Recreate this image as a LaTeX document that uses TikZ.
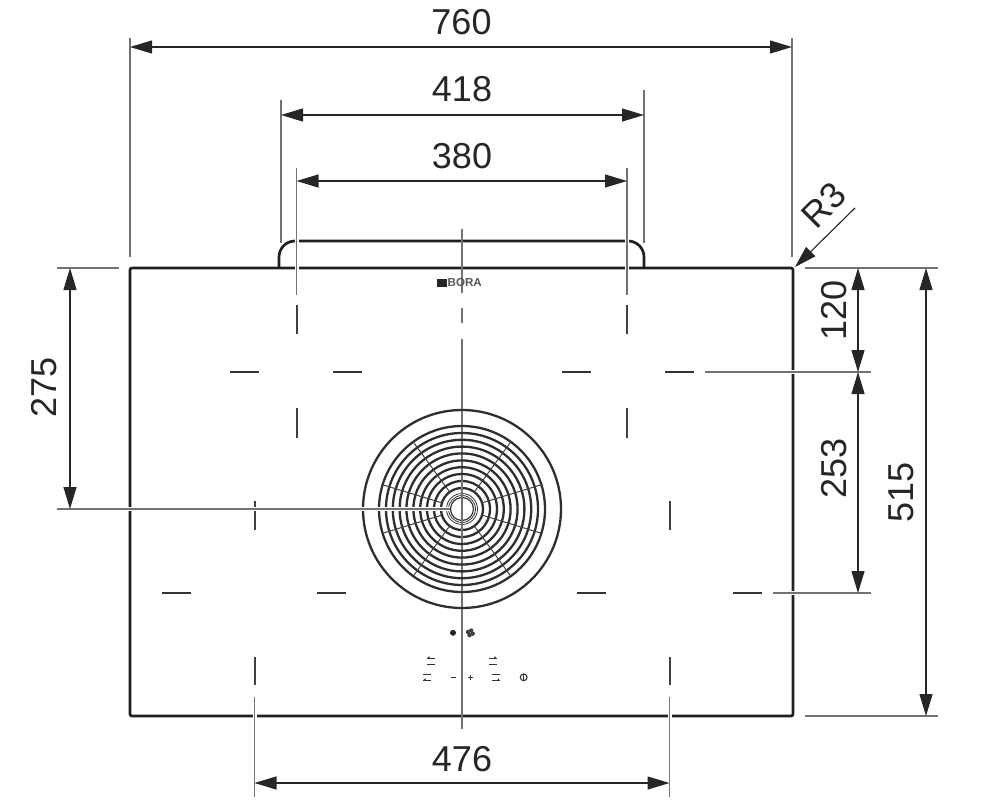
\documentclass[tikz,border=0pt]{standalone}
\usepackage{fontspec}
\setmainfont{Liberation Sans}
\usetikzlibrary{arrows.meta,calc}
\tikzset{
  outline/.style={line width=2.7pt,color=black!88},
  extline/.style={line width=1.2pt,color=black!55,preaction={draw=white,line width=4pt}},
  axisline/.style={line width=1.2pt,color=black!55},
  markline/.style={line width=1.7pt,color=black!80},
  vmarkline/.style={line width=2pt,color=black!75},
  dimline/.style={line width=1.1pt,color=black!85,{Triangle[length=22pt,width=13pt]}-{Triangle[length=22pt,width=13pt]}},
  dimtext/.style={inner sep=0pt,font=\fontsize{36}{36}\selectfont,color=black!85},
  ringline/.style={line width=2.3pt,color=black!82},
  iconline/.style={line width=1.1pt,color=black!80}
}
\begin{document}
\begin{tikzpicture}[x=1pt,y=-1pt,line cap=butt]
\useasboundingbox (0,0) rectangle (1000,808);
\coordinate (hub) at (462,509);
% hob outline
\draw[outline,rounded corners=2pt] (130,268) rectangle (793,716);
\draw[outline,rounded corners=16pt] (279,268) -- (279,241) -- (644,241) -- (644,268);
% centre line and cross marks
\draw[axisline] (462,229) -- (462,293);
\draw[axisline] (462,308) -- (462,323);
\draw[axisline] (462,339) -- (462,729);
\foreach \xa in {230,333,562,665}
  \draw[markline] (\xa,372) -- ++(29,0);
\foreach \xa in {162,317,577,733}
  \draw[markline] (\xa,593) -- ++(29,0);
\foreach \xa in {296.5,627}{
  \draw[vmarkline] (\xa,305) -- (\xa,334);
  \draw[vmarkline] (\xa,408) -- (\xa,438);
}
\foreach \xa in {254.5,669.5}{
  \draw[vmarkline] (\xa,501) -- (\xa,530);
  \draw[vmarkline] (\xa,657) -- (\xa,685);
}
% extraction grille
\draw[ringline] (hub) circle (99);
\foreach \rr in {83,76,69.2,62.4,55.6,48.6,41.8,35,28,21}
  \draw[ringline] (hub) circle (\rr);
\foreach \aa in {17,54,126,163,197,234,306,343}
  \draw[line width=1pt,color=black!75] ($(hub)+(\aa:21)$) -- ($(hub)+(\aa:83)$);
\draw[line width=0.8pt,color=black!80] (hub) circle (15.5);
\draw[line width=0.8pt,color=black!80] (hub) circle (13.5);
\draw[line width=1.2pt,color=black!80] (hub) circle (11.5);
\draw[axisline] (462,480) -- (462,538);
% extension lines
\draw[extline] (130,38) -- (130,257);
\draw[extline] (792,38) -- (792,257);
\draw[extline] (281,100) -- (281,243);
\draw[extline] (644,90) -- (644,243);
\draw[extline] (296.5,168) -- (296.5,295);
\draw[extline] (627,168) -- (627,295);
\draw[extline] (254.5,697) -- (254.5,797);
\draw[extline] (669.5,697) -- (669.5,797);
\draw[extline] (57,268) -- (119,268);
\draw[extline] (57,509) -- (450,509);
\draw[extline] (805,268) -- (938,268);
\draw[extline] (705,372) -- (871,372);
\draw[extline] (773,593) -- (871,593);
\draw[extline] (805,716) -- (938,716);
% dimensions
\draw[dimline] (130,47) -- (792,47);
\draw[dimline] (281,115) -- (644,115);
\draw[dimline] (296.5,181) -- (627,181);
\draw[dimline] (254.5,783) -- (669.5,783);
\draw[dimline] (70,268) -- (70,509);
\draw[dimline] (858,268) -- (858,372);
\draw[dimline] (858,372) -- (858,593);
\draw[dimline] (926,268) -- (926,716);
\coordinate (rtip) at (795,267);
\coordinate (rend) at (855,208);
\draw[line width=1.1pt,color=black!85,-{Triangle[length=22pt,width=13pt]}] (rend) -- (rtip);
\node[dimtext] (d760) at (461.5,22) {760};
\node[dimtext] (d418) at (462,89) {418};
\node[dimtext] (d380) at (462,156) {380};
\node[dimtext] (d476) at (462,759) {476};
\node[dimtext,rotate=90] (d275) at (44,387) {275};
\node[dimtext,rotate=90] (d120) at (834,310) {120};
\node[dimtext,rotate=90] (d253) at (834,468) {253};
\node[dimtext,rotate=90] (d515) at (901,492) {515};
\node[dimtext,rotate=45] (dr3) at (824,205) {R3};
% logo
\fill[black!85] (437,279) rectangle (447,287);
\node[inner sep=0pt,anchor=west,font=\fontsize{11.6}{11.6}\selectfont\bfseries,color=black!65] (logo) at (447.5,283) {BORA};
% controls
\fill[black!85] (453,632.8) circle (3);
\foreach \aa in {0,90,180,270}
  \fill[black!75] (470.3,632.8)+(\aa+20:2.5) circle (2.2);
\foreach \xa/\ya/\ty/\sgn in {431/658.5/0/-1,493/658.5/0/1,427/674.5/6/-1,496.3/674.5/6/1}{
  \draw[iconline] (\xa-4,\ya) -- (\xa+4,\ya);
  \draw[iconline] (\xa-4,\ya+6) -- (\xa+4,\ya+6);
  \draw[iconline] (\xa+\sgn*3,\ya+\ty) -- (\xa+\sgn*1.5,\ya+\ty-1.8);
}
\draw[iconline,line width=1.4pt] (451,677.5) -- ++(4.5,0);
\draw[iconline] (468,677.5) -- ++(5,0);
\draw[iconline] (470.5,675) -- ++(0,5);
\draw[iconline] (523.7,677.3) circle (3.4);
\draw[iconline] (523.7,673.5) -- ++(0,7.6);
\end{tikzpicture}
\end{document}
